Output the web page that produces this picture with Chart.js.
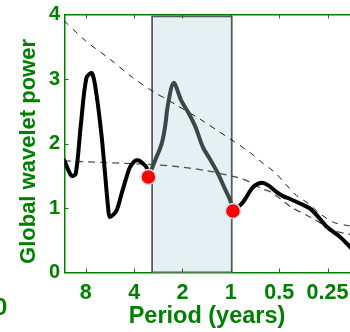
<!DOCTYPE html>
<html>
<head>
<meta charset="utf-8">
<script src="https://cdn.jsdelivr.net/npm/chart.js@4.4.1/dist/chart.umd.min.js"></script>
<style>
  html, body { margin: 0; padding: 0; background: #fff; overflow: hidden; }
  /* the plot runs on past the right edge of the page */
  #wrap { position: relative; width: 360px; height: 332px; }
  #gwsChart { display: block; }
  #edgeLabel {
    position: absolute; left: -6px; top: 295px;
    font: bold 24px "Liberation Sans", Arial, sans-serif; line-height: 24px;
    color: #008000;
  }
</style>
</head>
<body>
<div id="wrap">
  <canvas id="gwsChart" width="360" height="332"></canvas>
  <div id="edgeLabel">0</div>
</div>
<script>
const green = "#008000";

// axis ticks
const tickPeriods = [8, 4, 2, 1, 0.5, 0.25];
const powerTicks = [0, 1, 2, 3, 4];
const periodRange = [10.85, 0.157];   // left edge, right edge
const powerRange = [0, 4];

// global wavelet spectrum, split at the two markers
const leftPeriods = [10.9, 9.82, 9.24, 8.6, 7.92, 7.31, 6.86, 6.39, 6.09, 5.81, 5.67, 5.15, 4.79, 4.46, 4.25, 3.96, 3.78, 3.6, 3.35, 3.26];
const leftPower   = [1.74, 1.50, 1.53, 2.27, 3.02, 3.09, 2.76, 2.14, 1.58, 1.01, 0.86, 0.96, 1.22, 1.48, 1.63, 1.73, 1.74, 1.71, 1.63, 1.48];

const bandCurvePeriods = [3.26, 2.97, 2.7, 2.57, 2.46, 2.27, 2.03, 1.84, 1.67, 1.49, 1.35, 1.2, 1.09, 1.01, 0.97];
const bandCurvePower   = [1.48, 1.73, 1.99, 2.25, 2.61, 2.94, 2.66, 2.48, 2.27, 1.94, 1.76, 1.53, 1.30, 1.12, 0.955];

const rightPeriods = [0.97, 0.84, 0.73, 0.643, 0.585, 0.518, 0.471, 0.428, 0.371, 0.321, 0.285, 0.253, 0.209, 0.185, 0.176, 0.157];
const rightPower   = [0.955, 1.09, 1.32, 1.39, 1.35, 1.245, 1.18, 1.14, 1.07, 0.99, 0.86, 0.71, 0.55, 0.42, 0.36, 0.24];

// dashed reference levels
const upperPeriods = [10.9, 7.92, 5.67, 4.08, 3.06, 2.23, 1.56, 1.01, 0.76, 0.643, 0.531, 0.46, 0.389, 0.329, 0.278, 0.23, 0.19, 0.157];
const upperPower   = [3.90, 3.58, 3.31, 3.02, 2.81, 2.61, 2.38, 2.07, 1.86, 1.71, 1.55, 1.38, 1.19, 1.07, 0.91, 0.78, 0.73, 0.70];

const lowerPeriods = [10.9, 3.53, 2.3, 1.42, 1.01, 0.9, 0.76, 0.643, 0.557, 0.418, 0.321, 0.23, 0.19, 0.157];
const lowerPower   = [1.73, 1.68, 1.65, 1.58, 1.50, 1.47, 1.40, 1.30, 1.24, 1.01, 0.86, 0.655, 0.60, 0.58];

// highlighted period band and its end markers
const bandPeriods = [3.09, 0.987];
const bandTop = 3.97;
const markPeriods = [3.26, 0.97];
const markPower = [1.48, 0.955];

const pts = (ps, vs) => ps.map((p, i) => ({ x: Math.log2(p), y: vs[i] }));

const bandBox = [
  { x: Math.log2(bandPeriods[0]), y: 0 },
  { x: Math.log2(bandPeriods[0]), y: bandTop },
  { x: Math.log2(bandPeriods[1]), y: bandTop },
  { x: Math.log2(bandPeriods[1]), y: 0 },
  { x: Math.log2(bandPeriods[0]), y: 0 }
];

const curve = (data, color, order) => ({
  data, borderColor: color, borderWidth: 4, tension: 0.3,
  pointRadius: 0, fill: false, order, borderCapStyle: "round", borderJoinStyle: "round"
});

// inward tick marks on three sides, plus both axis titles
const axisDecor = {
  id: "axisDecor",
  afterDraw(chart) {
    const { ctx, chartArea: a, scales } = chart;
    ctx.save();
    ctx.strokeStyle = green;
    ctx.lineWidth = 1;
    ctx.beginPath();
    tickPeriods.forEach(p => {
      const x = Math.round(scales.x.getPixelForValue(Math.log2(p))) + 0.5;
      ctx.moveTo(x, a.bottom); ctx.lineTo(x, a.bottom - 4);
      ctx.moveTo(x, a.top); ctx.lineTo(x, a.top + 4);
    });
    powerTicks.slice(1, -1).forEach(v => {
      const y = Math.round(scales.y.getPixelForValue(v)) + 0.5;
      ctx.moveTo(a.left, y); ctx.lineTo(a.left + 4, y);
    });
    ctx.stroke();

    ctx.fillStyle = green;
    ctx.textAlign = "center";
    ctx.textBaseline = "middle";

    ctx.font = 'bold 23.5px "Liberation Sans", Arial, sans-serif';
    ctx.fillText("Period (years)", 207, 317);

    ctx.translate(28.5, (a.top + a.bottom) / 2 + 8);
    ctx.rotate(-Math.PI / 2);
    ctx.font = 'bold 22px "Liberation Sans", Arial, sans-serif';
    ctx.fillText("Global wavelet power", 0, 0);
    ctx.restore();
  }
};

const xRange = { min: Math.log2(periodRange[1]), max: Math.log2(periodRange[0]) };

new Chart(document.getElementById("gwsChart"), {
  type: "line",
  data: {
    datasets: [
      {
        data: bandBox, fill: "shape", backgroundColor: "#e5f0f2",
        borderColor: "#545c5c", borderWidth: 1.8, pointRadius: 0, tension: 0, order: 10
      },
      {
        data: pts(upperPeriods, upperPower), borderColor: "#1a1a1a", borderWidth: 1,
        borderDash: [6, 6], tension: 0.3, pointRadius: 0, fill: false, order: 6
      },
      {
        data: pts(lowerPeriods, lowerPower), borderColor: "#4d4d4d", borderWidth: 1.3,
        borderDash: [7, 5], tension: 0.3, pointRadius: 0, fill: false, order: 5
      },
      curve(pts(leftPeriods, leftPower), "#000000", 3),
      curve(pts(bandCurvePeriods, bandCurvePower), "#3e4747", 3),
      curve(pts(rightPeriods, rightPower), "#000000", 3),
      {
        data: pts(markPeriods, markPower), showLine: false,
        pointRadius: 7.5, pointBackgroundColor: "#ff0000",
        pointBorderColor: "#c4e2e6", pointBorderWidth: 1.5, order: 0
      }
    ]
  },
  options: {
    responsive: false,
    animation: false,
    devicePixelRatio: 1,
    layout: { autoPadding: false, padding: { top: 12.5, right: 0, bottom: 0, left: 0 } },
    plugins: { legend: { display: false }, tooltip: { enabled: false } },
    scales: {
      x: {
        type: "linear", position: "bottom", reverse: true, ...xRange,
        afterBuildTicks: s => { s.ticks = tickPeriods.map(p => ({ value: Math.log2(p) })); },
        afterFit: s => { s.height = 59.5; },
        grid: { drawOnChartArea: false, drawTicks: false },
        border: { color: green, width: 1.5 },
        ticks: {
          color: green, padding: 9.5, maxRotation: 0, autoSkip: false,
          font: { family: "Liberation Sans", weight: "bold", size: 21.5, lineHeight: 1 },
          callback: (v, i) => String(tickPeriods[i])
        }
      },
      x2: {
        type: "linear", position: "top", reverse: true, ...xRange,
        afterFit: s => { s.height = 0; },
        grid: { drawOnChartArea: false, drawTicks: false },
        border: { color: green, width: 1.5 },
        ticks: { display: false }
      },
      y: {
        type: "linear", min: powerRange[0], max: powerRange[1],
        afterBuildTicks: s => { s.ticks = powerTicks.map(v => ({ value: v })); },
        afterFit: s => { s.width = 64.5; },
        grid: { drawOnChartArea: false, drawTicks: false },
        border: { color: green, width: 1.5 },
        ticks: {
          color: green, padding: 4.5,
          font: { family: "Liberation Sans", weight: "bold", size: 20, lineHeight: 1 }
        }
      }
    }
  },
  plugins: [axisDecor]
});
</script>
</body>
</html>
